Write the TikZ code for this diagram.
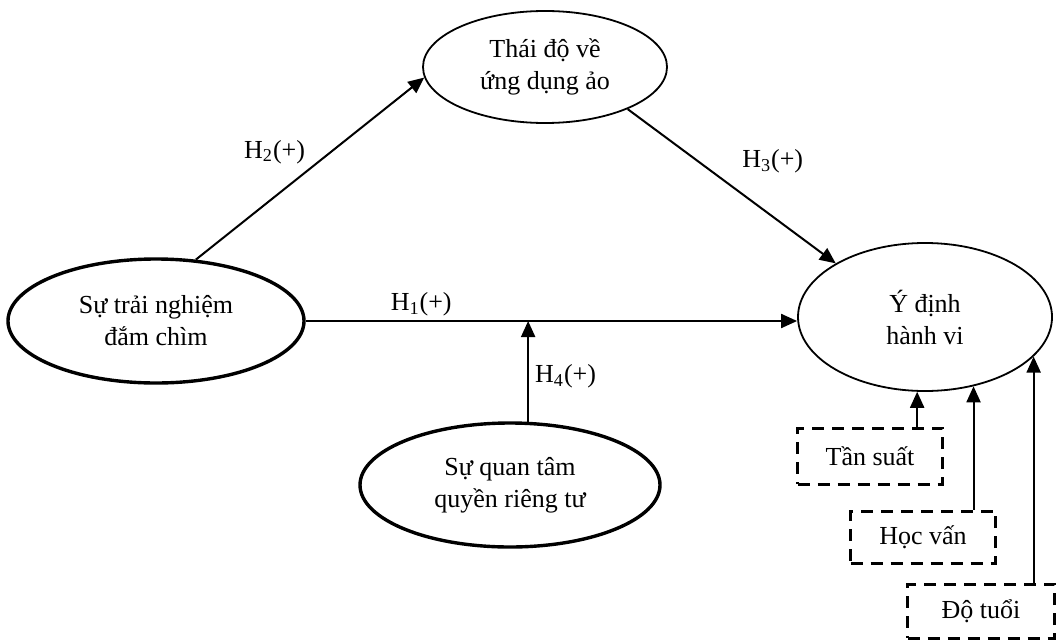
\documentclass[tikz,border=0pt]{standalone}
\usepackage{fontspec}
\setmainfont{Liberation Serif}
\usepackage{tikz}
\usetikzlibrary{shapes.geometric,arrows.meta,positioning}
\tikzset{
  mhvar/.style={draw,ellipse,line width=0.9pt,inner sep=0pt,align=center,
                font=\fontsize{13}{16}\selectfont},
  mhmain/.style={mhvar,line width=1.7pt},
  mhctrl/.style={draw,line width=1.5pt,dash pattern=on 6pt off 4pt,inner sep=0pt,
                 minimum width=72.5pt,minimum height=28pt,font=\fontsize{13}{16}\selectfont},
  mhflow/.style={-{Triangle[length=8pt,width=7pt]},line width=1pt},
  mhlbl/.style={font=\fontsize{13}{16}\selectfont,inner sep=2pt},
}

\begin{document}
\begin{tikzpicture}[x=0.5pt,y=0.5pt]
  \useasboundingbox (0,0) rectangle (1058,-642);

  \node[mhmain,minimum width=148pt,minimum height=62pt] (trai) at (156,-321) {Sự trải nghiệm\\đắm chìm};
  \node[mhvar,minimum width=122pt,minimum height=56pt] (thaido) at (545,-67) {Thái độ về\\ứng dụng ảo};
  \node[mhvar,minimum width=127pt,minimum height=74pt] (ydinh) at (925,-317) {Ý định\\hành vi};
  \node[mhmain,minimum width=150pt,minimum height=62pt] (quantam) at (510,-485) {Sự quan tâm\\quyền riêng tư};

  \node[mhctrl] (tansuat) at (870,-456) {Tần suất};
  \node[mhctrl,minimum height=26pt] (hocvan) at (923,-537) {Học vấn};
  \node[mhctrl,minimum width=73.5pt,minimum height=27pt] (dotuoi) at (981,-611) {Độ tuổi};

  \draw[mhflow] (trai.57) -- node[mhlbl,pos=0.5,above left]{H\textsubscript{2}(+)} (thaido.185);
  \draw[mhflow] (thaido.-27) -- node[mhlbl,pos=0.45,above right,xshift=8pt]{H\textsubscript{3}(+)} (ydinh.149);
  \draw[mhflow] (trai.east) -- node[mhlbl,pos=0.235,above]{H\textsubscript{1}(+)} (trai.east -| ydinh.west);
  \draw[mhflow] (quantam.74) -- node[mhlbl,pos=0.45,right,xshift=1pt]{H\textsubscript{4}(+)} (quantam.74 |- trai.east);

  % control variables enter from below
  \draw[mhflow] (ydinh.-96 |- tansuat.north) -- (ydinh.-96);
  \draw[mhflow] (ydinh.-55 |- hocvan.north) -- (ydinh.-55);
  \draw[mhflow] (ydinh.-20 |- dotuoi.north) -- (ydinh.-20);
\end{tikzpicture}
\end{document}
